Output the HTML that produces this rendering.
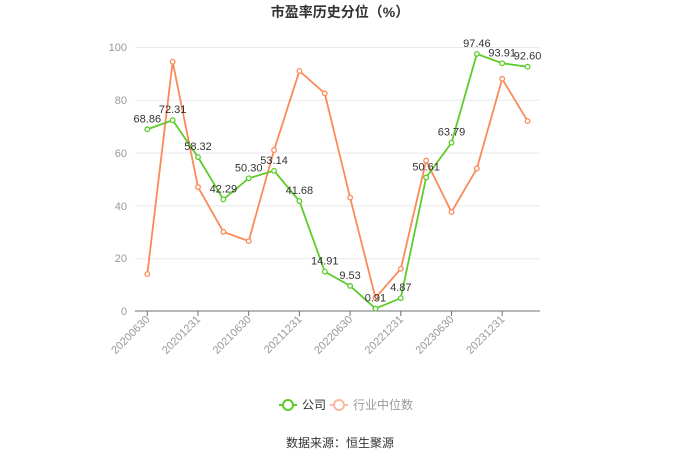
<!DOCTYPE html><html><head><meta charset="utf-8"><style>body{margin:0;background:#fff}svg{display:block}text{font-family:"Liberation Sans","Noto Sans CJK SC",sans-serif}</style></head><body>
<svg width="680" height="460" xmlns="http://www.w3.org/2000/svg">
<text x="340" y="17" text-anchor="middle" font-size="14" font-weight="bold" fill="#333">市盈率历史分位（%）</text>
<g stroke="#e8e8ef" stroke-width="1">
<line x1="135" x2="540" y1="47.5" y2="47.5"/><line x1="135" x2="540" y1="100.3" y2="100.3"/><line x1="135" x2="540" y1="153.1" y2="153.1"/><line x1="135" x2="540" y1="205.9" y2="205.9"/><line x1="135" x2="540" y1="258.7" y2="258.7"/>
</g>
<line x1="135" x2="540" y1="311" y2="311" stroke="#6e7079"/>
<g font-size="11" fill="#999" text-anchor="end">
<text x="127" y="51">100</text><text x="127" y="104">80</text><text x="127" y="157">60</text><text x="127" y="210">40</text><text x="127" y="262">20</text><text x="127" y="315">0</text>
</g>
<g id="ticks" stroke="#6e7079"></g>
<g id="xl" font-size="11" fill="#999"></g>
<g id="s"></g>
<g font-size="12">
<line x1="279" x2="297" y1="405" y2="405" stroke="#5ecb2b" stroke-width="2"/><circle cx="288" cy="405" r="5" fill="#fff" stroke="#5ecb2b" stroke-width="2"/>
<text x="302" y="409" fill="#333">公司</text>
<line x1="330" x2="348" y1="405" y2="405" stroke="#fbb9a0" stroke-width="2"/><circle cx="339" cy="405" r="5" fill="#fff" stroke="#fbb9a0" stroke-width="2"/>
<text x="353" y="409" fill="#999">行业中位数</text>
</g>
<text x="340" y="447" text-anchor="middle" font-size="12" fill="#333">数据来源：恒生聚源</text>
<script>
var ns="http://www.w3.org/2000/svg";
function el(p,t,a,txt){var e=document.createElementNS(ns,t);for(var k in a)e.setAttribute(k,a[k]);if(txt)e.textContent=txt;document.getElementById(p).appendChild(e);}
var X=i=>147.3+i*25.35,Y=v=>311-v*2.638;
var c=[68.86,72.31,58.32,42.29,50.30,53.14,41.68,14.91,9.53,0.91,4.87,50.61,63.79,97.46,93.91,92.60];
var ind=[14,94.5,47,30,26.5,61,91,82.5,43,5,16,57,37.5,54,88,72];
var lab=["20200630","20201231","20210630","20211231","20220630","20221231","20230630","20231231"];
for(var j=0;j<8;j++){var x=X(j*2);el("ticks","line",{x1:x,x2:x,y1:311,y2:316});el("xl","text",{x:x+3,y:320,transform:"rotate(-45 "+(x+3)+" 320)","text-anchor":"end"},lab[j]);}
function ser(d,col){el("s","polyline",{points:d.map((v,i)=>X(i)+","+Y(v)).join(" "),fill:"none",stroke:col,"stroke-width":1.8});d.forEach((v,i)=>el("s","circle",{cx:X(i),cy:Y(v),r:2.3,fill:"#fff",stroke:col,"stroke-width":1.3}));}
ser(ind,"#fa8a5a");ser(c,"#5ecb2b");
c.forEach((v,i)=>el("s","text",{x:X(i),y:Y(v)-7,"text-anchor":"middle","font-size":11,fill:"#333"},v.toFixed(2)));
</script>
</svg></body></html>
